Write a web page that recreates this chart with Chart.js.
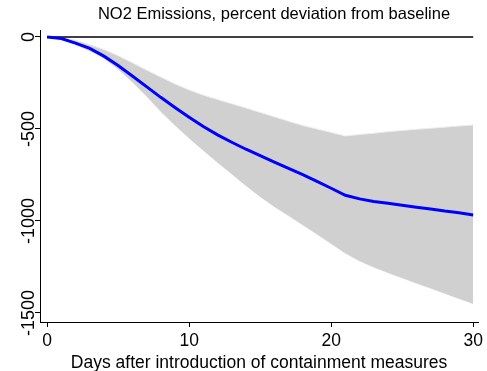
<!DOCTYPE html>
<html>
<head>
<meta charset="utf-8">
<script src="https://cdn.jsdelivr.net/npm/chart.js@4"></script>
<style>
  html, body { margin: 0; padding: 0; background: #fff; }
  #wrap { width: 487px; height: 371px; }
</style>
</head>
<body>
<div id="wrap"><canvas id="chart"></canvas></div>
<script>
// days after containment measures
const days = [0, 1, 2, 3, 4, 5, 6, 7, 8, 9, 10, 11, 12, 13, 14, 15, 16, 17, 18, 19, 20, 21, 22, 23, 24, 25, 26, 27, 28, 29, 30];
// point estimate (percent deviation from baseline)
const meanValues = [0, -8, -33, -62, -104, -155, -212, -270, -328, -383, -436, -487, -532, -572, -610, -645, -680, -714, -748, -785, -822, -860, -880, -894, -904, -914, -925, -935, -946, -955, -967];
// confidence band
const upperValues = [0, -4, -18, -42, -68, -102, -140, -180, -218, -255, -288, -316, -340, -363, -386, -410, -434, -458, -481, -500, -519, -538, -530, -523, -515, -508, -502, -496, -490, -484, -478];
const lowerValues = [0, -12, -42, -75, -115, -175, -245, -322, -405, -480, -550, -617, -682, -745, -808, -868, -922, -972, -1022, -1072, -1124, -1176, -1218, -1252, -1282, -1310, -1338, -1366, -1394, -1422, -1450];
const xTicks = [0, 10, 20, 30];
const yTicks = [0, -500, -1000, -1500];

const FONT = "'Liberation Sans', Arial, sans-serif";
const TITLE = "NO2 Emissions, percent deviation from baseline";
const XTITLE = "Days after introduction of containment measures";

function pts(vals) {
  return days.map(function (d, i) { return { x: d, y: vals[i] }; });
}

// titles and vertical y tick labels, placed like the original
const textLayer = {
  id: "textLayer",
  afterDraw: function (chart) {
    const ctx = chart.ctx;
    const y = chart.scales.y;
    const area = chart.chartArea;
    ctx.save();
    ctx.fillStyle = "#000";
    ctx.textAlign = "center";
    ctx.textBaseline = "alphabetic";

    ctx.font = "16.5px " + FONT;
    ctx.fillText(TITLE, 274, 19);

    ctx.font = "17.5px " + FONT;
    ctx.fillText(XTITLE, (area.left + area.right) / 2, 368);

    ctx.font = "18px " + FONT;
    yTicks.forEach(function (v) {
      ctx.save();
      ctx.translate(34, y.getPixelForValue(v));
      ctx.rotate(-Math.PI / 2);
      ctx.fillText(String(v), 0, 0);
      ctx.restore();
    });
    ctx.restore();
  },
};

new Chart(document.getElementById("chart"), {
  type: "line",
  data: {
    datasets: [
      {
        data: pts(upperValues),
        borderColor: "rgb(236,236,236)",
        borderWidth: 1,
        backgroundColor: "rgb(208,208,208)",
        fill: "+1",
        pointRadius: 0,
        tension: 0,
        order: 3,
      },
      {
        data: pts(lowerValues),
        borderColor: "rgb(236,236,236)",
        borderWidth: 1,
        fill: false,
        pointRadius: 0,
        tension: 0,
        order: 3,
      },
      {
        data: [{ x: 0, y: 0 }, { x: 30, y: 0 }],
        borderColor: "#000",
        borderWidth: 1.5,
        fill: false,
        pointRadius: 0,
        order: 2,
      },
      {
        data: pts(meanValues),
        borderColor: "rgb(0,0,255)",
        borderWidth: 3,
        fill: false,
        pointRadius: 0,
        tension: 0,
        order: 1,
      },
    ],
  },
  options: {
    responsive: true,
    maintainAspectRatio: false,
    animation: false,
    layout: { padding: { left: 0, right: 6, top: 30, bottom: 0 } },
    plugins: {
      legend: { display: false },
      tooltip: { enabled: false },
      title: { display: false },
    },
    scales: {
      x: {
        type: "linear",
        min: -0.5,
        max: 30.35,
        afterBuildTicks: function (scale) {
          scale.ticks = xTicks.map(function (v) { return { value: v }; });
        },
        afterFit: function (scale) { scale.height = 49; },
        grid: { display: true, drawOnChartArea: false, drawTicks: true, tickLength: 5, color: "#000" },
        border: { display: true, color: "#000", width: 1 },
        ticks: {
          color: "#000",
          padding: 4,
          maxRotation: 0,
          font: { family: FONT, size: 17.5 },
        },
      },
      y: {
        type: "linear",
        min: -1549,
        max: 38,
        afterBuildTicks: function (scale) {
          scale.ticks = yTicks.map(function (v) { return { value: v }; });
        },
        afterFit: function (scale) { scale.width = 40; },
        grid: { display: true, drawOnChartArea: false, drawTicks: true, tickLength: 5, color: "#000" },
        border: { display: true, color: "#000", width: 1 },
        ticks: { display: false },
      },
    },
  },
  plugins: [textLayer],
});
</script>
</body>
</html>
